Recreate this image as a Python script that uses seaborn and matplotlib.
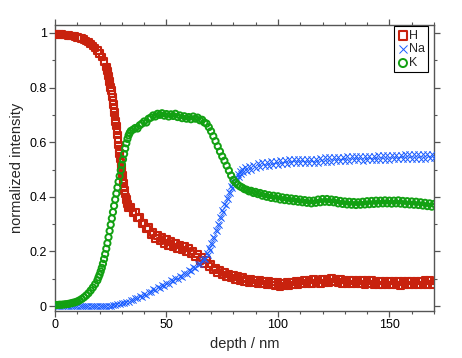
import numpy as np
import pandas as pd
import matplotlib
matplotlib.use("Agg")
import matplotlib.pyplot as plt
from matplotlib.ticker import MultipleLocator, FuncFormatter
import seaborn as sns

# ---------------- data ----------------
depth_H = np.concatenate([np.arange(0, 24, 1.0), np.arange(23.25, 33.01, 0.25), np.arange(34, 171, 1.0)])
H = [0.995, 0.996, 0.994, 0.995, 0.993, 0.992, 0.991, 0.989, 0.988, 0.986, 0.984, 0.982, 0.979, 0.975,
     0.971, 0.966, 0.960, 0.953, 0.945, 0.936, 0.925, 0.912, 0.896, 0.875,
     0.868, 0.861, 0.852, 0.843, 0.833, 0.822, 0.811, 0.800, 0.789, 0.777, 0.766, 0.752, 0.738, 0.724,
     0.708, 0.692, 0.676, 0.659, 0.643, 0.626, 0.608, 0.590, 0.574, 0.558, 0.541, 0.525, 0.509, 0.494,
     0.479, 0.464, 0.450, 0.436, 0.423, 0.411, 0.400, 0.390, 0.381, 0.373, 0.366, 0.360,
     0.360, 0.340, 0.345, 0.322, 0.325, 0.302, 0.305, 0.282, 0.288, 0.262, 0.270, 0.248, 0.258, 0.238,
     0.252, 0.230, 0.244, 0.222, 0.236, 0.216, 0.230, 0.210, 0.224, 0.206, 0.220, 0.198, 0.212, 0.192,
     0.202, 0.180, 0.190, 0.166, 0.178, 0.155, 0.168, 0.145, 0.154, 0.132, 0.140, 0.121, 0.132, 0.113,
     0.124, 0.108, 0.118, 0.102, 0.112, 0.098, 0.108, 0.094, 0.104, 0.090, 0.100, 0.087, 0.098, 0.085,
     0.096, 0.083, 0.094, 0.081, 0.092, 0.079, 0.090, 0.077, 0.088, 0.075, 0.086, 0.072, 0.082, 0.073,
     0.086, 0.075, 0.088, 0.077, 0.090, 0.079, 0.092, 0.080, 0.094, 0.082, 0.096, 0.083, 0.097, 0.084,
     0.096, 0.083, 0.097, 0.085, 0.099, 0.086, 0.101, 0.088, 0.100, 0.087, 0.097, 0.083, 0.095, 0.082,
     0.095, 0.081, 0.094, 0.081, 0.093, 0.080, 0.093, 0.079, 0.094, 0.080, 0.093, 0.079, 0.092, 0.078,
     0.092, 0.077, 0.092, 0.078, 0.091, 0.077, 0.092, 0.078, 0.091, 0.076, 0.090, 0.078, 0.092, 0.078,
     0.091, 0.077, 0.092, 0.078, 0.091, 0.078, 0.093, 0.079, 0.093, 0.079, 0.092]

depth_Na = np.concatenate([np.arange(0, 68, 1.0), np.arange(67.5, 85.01, 0.5), np.arange(86, 171, 1.0)])
Na = [0.001, 0.0, 0.001, 0.0, 0.001, 0.0, 0.001, 0.0, 0.001, 0.0, 0.001, 0.0, 0.001, 0.0, 0.001, 0.0,
      0.001, 0.0, 0.001, 0.0, 0.001, 0.0, 0.001, 0.001, 0.002, 0.002, 0.003, 0.004, 0.006, 0.007, 0.010,
      0.011, 0.015, 0.016, 0.021, 0.022, 0.028, 0.028, 0.036, 0.035, 0.044, 0.042, 0.052, 0.050, 0.061,
      0.058, 0.069, 0.066, 0.078, 0.074, 0.086, 0.082, 0.094, 0.090, 0.102, 0.098, 0.111, 0.107, 0.120,
      0.117, 0.131, 0.128, 0.142, 0.140, 0.155, 0.154, 0.168, 0.172,
      0.172, 0.196, 0.188, 0.213, 0.206, 0.232, 0.227, 0.254, 0.250, 0.278, 0.274, 0.302, 0.298, 0.326,
      0.322, 0.350, 0.346, 0.374, 0.370, 0.397, 0.392, 0.419, 0.413, 0.439, 0.432, 0.457, 0.449, 0.472,
      0.463, 0.485, 0.474, 0.495, 0.483, 0.503, 0.490, 0.509,
      0.495, 0.512, 0.500, 0.518, 0.505, 0.522, 0.508, 0.526, 0.512, 0.528, 0.514, 0.530, 0.516, 0.532,
      0.518, 0.534, 0.520, 0.536, 0.521, 0.537, 0.522, 0.538, 0.522, 0.538, 0.523, 0.539, 0.522, 0.538,
      0.522, 0.539, 0.523, 0.540, 0.525, 0.542, 0.527, 0.544, 0.528, 0.545, 0.529, 0.546, 0.530, 0.546,
      0.530, 0.547, 0.531, 0.548, 0.532, 0.549, 0.533, 0.550, 0.533, 0.549, 0.532, 0.549, 0.533, 0.550,
      0.534, 0.551, 0.535, 0.552, 0.535, 0.552, 0.536, 0.553, 0.536, 0.553, 0.537, 0.554, 0.537, 0.554,
      0.538, 0.555, 0.538, 0.556, 0.539, 0.556, 0.539, 0.557, 0.540, 0.557, 0.540, 0.558, 0.541, 0.558,
      0.541]

depth_K = np.concatenate([np.arange(0, 20, 1.0), np.arange(19.5, 34.01, 0.5), np.arange(35, 171, 1.0)])
K = [0.004, 0.004, 0.005, 0.005, 0.006, 0.007, 0.008, 0.010, 0.012, 0.014, 0.017, 0.021, 0.026, 0.032,
     0.039, 0.047, 0.057, 0.068, 0.080, 0.094,
     0.105, 0.115, 0.127, 0.140, 0.155, 0.172, 0.190, 0.210, 0.230, 0.252, 0.275, 0.298, 0.321, 0.344,
     0.367, 0.390, 0.412, 0.434, 0.455, 0.476, 0.497, 0.517, 0.537, 0.557, 0.577, 0.596, 0.612, 0.625,
     0.634, 0.641,
     0.646, 0.652, 0.650, 0.662, 0.668, 0.676, 0.672, 0.686, 0.690, 0.698, 0.694, 0.704, 0.700, 0.706,
     0.697, 0.703, 0.694, 0.702, 0.696, 0.704, 0.692, 0.698, 0.688, 0.695, 0.686, 0.692, 0.684, 0.694,
     0.686, 0.690, 0.680, 0.682, 0.672, 0.668, 0.655, 0.640, 0.622, 0.604, 0.585, 0.566, 0.548, 0.532,
     0.514, 0.496, 0.478, 0.462, 0.452, 0.444, 0.438, 0.434, 0.428, 0.426, 0.420, 0.422, 0.414, 0.418,
     0.410, 0.414, 0.404, 0.410, 0.400, 0.406, 0.396, 0.404, 0.394, 0.402, 0.390, 0.398, 0.388, 0.396,
     0.386, 0.394, 0.384, 0.392, 0.382, 0.390, 0.380, 0.388, 0.378, 0.386, 0.376, 0.386, 0.378, 0.390,
     0.380, 0.392, 0.382, 0.392, 0.381, 0.390, 0.380, 0.388, 0.376, 0.385, 0.374, 0.383, 0.372, 0.382,
     0.371, 0.381, 0.370, 0.380, 0.371, 0.382, 0.372, 0.384, 0.373, 0.385, 0.374, 0.386, 0.375, 0.386,
     0.376, 0.387, 0.376, 0.386, 0.375, 0.386, 0.376, 0.387, 0.375, 0.385, 0.373, 0.384, 0.372, 0.383,
     0.371, 0.382, 0.370, 0.380, 0.368, 0.378, 0.366, 0.376, 0.364, 0.374]

series_labels = ["H", "Na", "K"]
x_ticks = [0, 50, 100, 150]
y_ticks = [0, 0.2, 0.4, 0.6, 0.8, 1]

# ---------------- style ----------------
sns.set_theme(style="ticks")
plt.rcParams["font.family"] = ["Liberation Sans", "DejaVu Sans"]

RED = "#c8220e"
BLUE = "#1a5cff"
GREEN = "#12a012"
AXC = "#555555"

fig = plt.figure(figsize=(4.62, 3.58), dpi=100)
ax = fig.add_axes([55 / 462, 1 - 311 / 358, (434 - 55) / 462, (311 - 25) / 358])

dfH = pd.DataFrame({"depth": depth_H[:len(H)], "val": H[:len(depth_H)]})
dfNa = pd.DataFrame({"depth": depth_Na[:len(Na)], "val": Na[:len(depth_Na)]})
dfK = pd.DataFrame({"depth": depth_K[:len(K)], "val": K[:len(depth_K)]})

sns.scatterplot(data=dfH, x="depth", y="val", ax=ax, marker="s", s=22,
                facecolor="none", edgecolor=RED, linewidth=1.5, label=series_labels[0], zorder=3)
sns.scatterplot(data=dfNa, x="depth", y="val", ax=ax, marker="x", s=20,
                color=BLUE, linewidth=0.7, label=series_labels[1], zorder=4)
sns.scatterplot(data=dfK, x="depth", y="val", ax=ax, marker="o", s=20,
                facecolor="none", edgecolor=GREEN, linewidth=1.4, label=series_labels[2], zorder=5)

ax.set_xlim(0, 170)
ax.set_ylim(-0.018, 1.029)
ax.set_xticks(x_ticks)
ax.set_yticks(y_ticks)
ax.xaxis.set_minor_locator(MultipleLocator(10))
ax.yaxis.set_minor_locator(MultipleLocator(0.1))
ax.yaxis.set_major_formatter(FuncFormatter(lambda v, p: "%g" % v))

for sp in ax.spines.values():
    sp.set_visible(True)
    sp.set_color(AXC)
    sp.set_linewidth(1.0)
ax.tick_params(which="both", direction="out", top=True, right=True,
               labeltop=False, labelright=False, color=AXC, labelsize=9, labelcolor="black")
ax.tick_params(which="major", length=4, width=0.9, pad=2)
ax.tick_params(which="minor", length=2.5, width=0.8)

ax.set_xlabel("depth / nm", fontsize=10.5, labelpad=4)
ax.set_ylabel("normalized intensity", fontsize=10.5, labelpad=4)

leg = ax.legend(loc="upper right", bbox_to_anchor=(0.985, 0.995), fontsize=9, frameon=True,
                fancybox=False, framealpha=1, edgecolor="black", handletextpad=0.05,
                borderpad=0.25, labelspacing=0.15, handlelength=0.9, markerscale=1.3, borderaxespad=0)
leg.get_frame().set_linewidth(0.8)

fig.savefig("out.png", dpi=100)
